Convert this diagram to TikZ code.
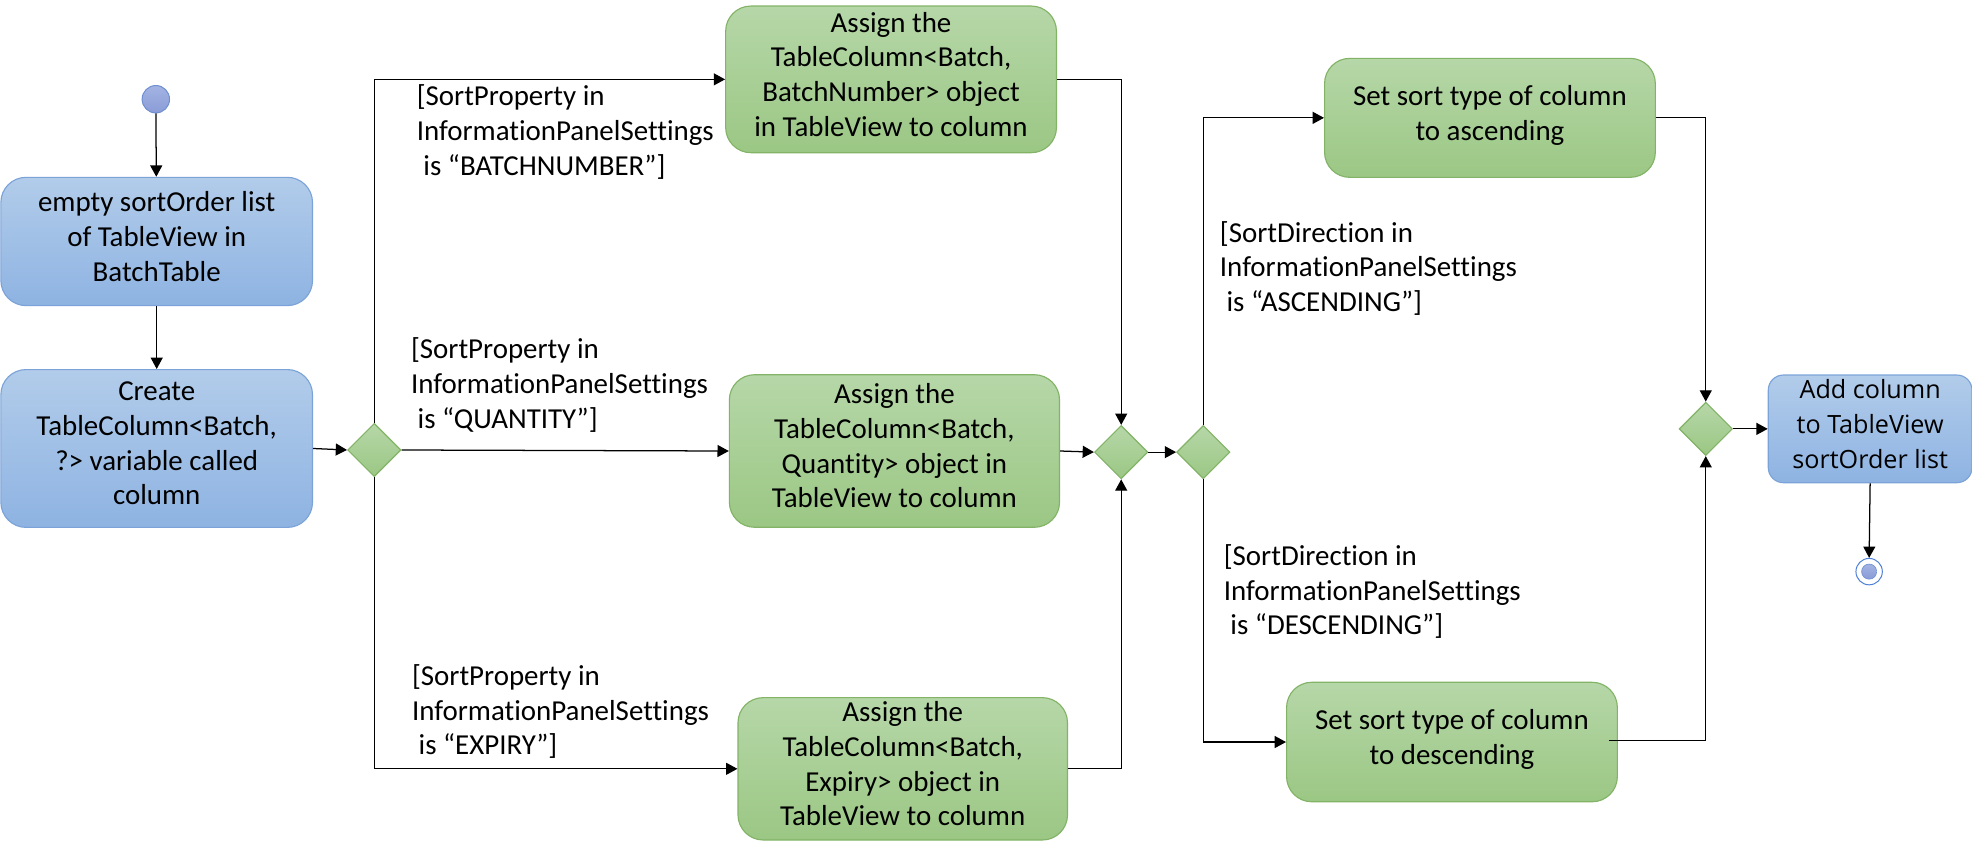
\documentclass[tikz,border=0pt]{standalone}
\usepackage{fontspec}
\setmainfont{Carlito}[Ligatures={NoCommon}]
\newfontfamily\segoe{Open Sans}
\usetikzlibrary{arrows.meta,shapes.geometric}

\definecolor{bluetop}{HTML}{B2CCEA}
\definecolor{bluebot}{HTML}{8EB3E2}
\definecolor{blueline}{HTML}{7BA3D8}
\definecolor{greentop}{HTML}{B6D7A8}
\definecolor{greenbot}{HTML}{9BC784}
\definecolor{greenline}{HTML}{82B366}
\definecolor{dottop}{HTML}{A3B3E3}
\definecolor{dotbot}{HTML}{8A9CD7}
\definecolor{dotline}{HTML}{6E8FD0}
\definecolor{ringline}{HTML}{4F81D6}

\begin{document}
\begin{tikzpicture}[x=1pt,y=-1pt,
  txt/.style={font=\fontsize{23}{27.6}\selectfont, execute at begin node=\strut, execute at end node=\strut},
  box/.style={txt, rounded corners=20pt, draw, line width=0.9pt, inner sep=0pt, align=center},
  bluebox/.style={box, draw=blueline, top color=bluetop, bottom color=bluebot},
  greenbox/.style={box, draw=greenline, top color=greentop, bottom color=greenbot},
  decision/.style={diamond, draw=greenline, line width=0.9pt, top color=greentop, bottom color=greenbot, minimum width=42.4pt, minimum height=42.4pt, inner sep=0pt},
  guard/.style={txt, anchor=west, inner sep=0pt, align=left},
  dot/.style={circle, draw=dotline, top color=dottop, bottom color=dotbot, inner sep=0pt},
  flow/.style={draw=black, line width=1pt, -{Triangle[length=9pt,width=9.5pt]}}
]
\useasboundingbox (0,0) rectangle (1568,681);

% initial state
\node[dot, line width=0.8pt, minimum size=21.8pt] (start) at (123.9,78.9) {};

% left column
\node[bluebox, minimum width=247.8pt, minimum height=102pt] (b1) at (124.6,192)
  {empty sortOrder list\\of TableView in\\BatchTable};
\node[bluebox, minimum width=247.8pt, minimum height=125.5pt] (b2) at (124.6,356.6)
  {Create\\TableColumn<Batch,\\?> variable called\\column};

% decisions
\node[decision] (d1) at (297.6,357.8) {};
\node[decision] (d2) at (891.5,359.5) {};
\node[decision] (d3) at (956.8,359.5) {};
\node[decision] (d4) at (1356.3,341) {};

% assign boxes
\node[greenbox, minimum width=263pt, minimum height=116.6pt] (a1) at (708.5,63.1)
  {Assign the\\TableColumn<Batch,\\BatchNumber> object\\in TableView to column};
\node[greenbox, minimum width=262.5pt, minimum height=121.3pt] (a2) at (711.2,358.6)
  {Assign the\\TableColumn<Batch,\\Quantity> object in\\TableView to column};
\node[greenbox, minimum width=262pt, minimum height=113.2pt] (a3) at (717.8,611.3)
  {Assign the\\TableColumn<Batch,\\Expiry> object in\\TableView to column};

% sort type boxes
\node[greenbox, minimum width=263pt, minimum height=94.6pt] (s1) at (1184.7,93.7)
  {Set sort type of column\\to ascending};
\node[greenbox, minimum width=263pt, minimum height=95pt] (s2) at (1154.5,590)
  {Set sort type of column\\to descending};

% final action
\node[bluebox, rounded corners=12pt, minimum width=162pt, minimum height=85.6pt,
      font=\segoe\fontsize{20}{27.8}\selectfont] (f) at (1487,341)
  {Add column\\to TableView\\sortOrder list};

% final state
\node[circle, draw=ringline, fill=white, line width=0.8pt, minimum size=21pt, inner sep=0pt] (end) at (1486.2,454.5) {};
\node[dot, line width=0.5pt, minimum size=12pt] (endcore) at (end) {};

% guards
\node[guard] (g1) at (331.2,107.5)
  {[SortProperty in\\InformationPanelSettings\\\hspace*{0.23em}is “BATCHNUMBER”]};
\node[guard] (g2) at (326.6,308.6)
  {[SortProperty in\\InformationPanelSettings\\\hspace*{0.23em}is “QUANTITY”]};
\node[guard] (g3) at (327.4,568.5)
  {[SortProperty in\\InformationPanelSettings\\\hspace*{0.23em}is “EXPIRY”]};
\node[guard] (g4) at (969.8,216)
  {[SortDirection in\\InformationPanelSettings\\\hspace*{0.23em}is “ASCENDING”]};
\node[guard] (g5) at (972.9,473)
  {[SortDirection in\\InformationPanelSettings\\\hspace*{0.23em}is “DESCENDING”]};

% connectors
\draw[flow] (start) -- (b1);
\draw[flow] (b1) -- (b2);
\draw[flow] (b2.east) -- (d1.west);
\draw[flow] (d1.north) |- (a1.west);
\draw[flow] (d1.east) -- (a2.west);
\draw[flow] (d1.south) |- (a3.west);
\draw[flow] (a1.east) -| (d2.north);
\draw[flow] (a2.east) -- (d2.west);
\draw[flow] (a3.east) -| (d2.south);
\draw[flow] (d2.east) -- (d3.west);
\draw[flow] (d3.north) |- (s1.west);
\draw[flow] (d3.south) |- (s2.west);
\draw[flow] (s1.east) -| (d4.north);
\draw[flow] ([xshift=-7pt,yshift=1pt]s2.east) -| (d4.south);
\draw[flow] (d4.east) -- (f.west);
\draw[flow] (f.south) -- (end.north);
\end{tikzpicture}
\end{document}
